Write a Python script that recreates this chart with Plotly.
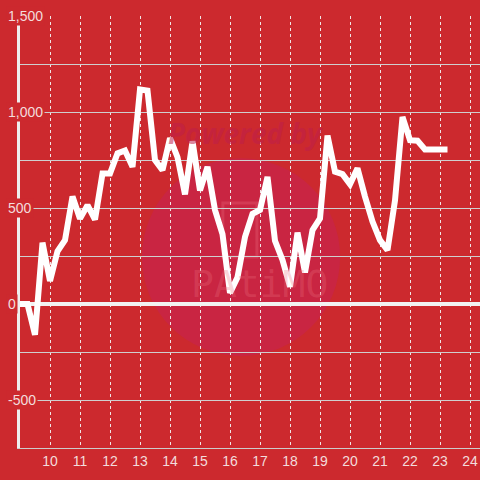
import plotly.graph_objects as go

# ---- data ----
x_start = 9.0
x_step = 0.25
values = [0, 0, -160, 320, 120, 275, 333, 560, 445, 515, 440, 680,
          680, 785, 800, 715, 1118, 1112, 750, 698, 865, 765, 572, 848,
          592, 715, 490, 365, 58, 140, 350, 470, 490, 663, 330, 230,
          90, 372, 165, 385, 446, 878, 690, 677, 625, 707, 560, 430,
          333, 281, 540, 975, 854, 851, 806, 806, 806, 806]
x_vals = [x_start + i * x_step for i in range(len(values))]

y_tick_vals = [1500, 1000, 500, 0, -500]
y_tick_text = ["1,500", "1,000", "500", "0", "-500"]
x_tick_vals = list(range(10, 25))

BG = "#cc292e"
TXT = "#f3dcdc"

fig = go.Figure()
fig.add_trace(go.Scatter(x=x_vals, y=values, mode="lines",
                         line=dict(color="#ffffff", width=6),
                         hoverinfo="skip", showlegend=False))

# watermark (decorative)
fig.add_shape(type="circle", xref="paper", yref="paper",
              x0=0.265, x1=0.696, y0=0.213, y1=0.671,
              fillcolor="rgba(200,36,75,0.7)", line=dict(width=0), layer="below")
fig.add_shape(type="rect", xref="paper", yref="paper",
              x0=0.441, x1=0.515, y0=0.442, y1=0.567,
              fillcolor="rgba(0,0,0,0)", line=dict(color="rgba(235,110,125,0.3)", width=3),
              layer="below")
fig.add_annotation(text="Powered by", xref="paper", yref="paper",
                   x=0.49, y=0.73, yanchor="middle", showarrow=False,
                   font=dict(family="Open Sans", size=28, color="rgba(190,30,75,0.55)",
                             weight="bold", style="italic"))
fig.add_annotation(text="PAtiMO", xref="paper", yref="paper",
                   x=0.52, y=0.38, showarrow=False,
                   font=dict(family="DejaVu Sans Mono", size=38,
                             color="rgba(235,110,125,0.3)"))

# y labels with background boxes
for v, t in zip(y_tick_vals, y_tick_text):
    fig.add_annotation(text=t, xref="paper", yref="y", x=-0.0304, y=v,
                       xanchor="left", yanchor="middle", showarrow=False,
                       bgcolor=BG, borderpad=1,
                       font=dict(family="Liberation Sans", size=14, color=TXT))

fig.update_layout(
    width=480, height=480,
    margin=dict(l=20, r=0, t=16, b=32, autoexpand=False),
    paper_bgcolor=BG, plot_bgcolor="rgba(0,0,0,0)",
    showlegend=False,
    xaxis=dict(range=[9.0, 9.0 + 460 / 30], tickvals=x_tick_vals,
               showgrid=True, gridcolor="#f0e6e6", griddash="dot", gridwidth=1,
               zeroline=False, showline=True, linecolor="#cccccc", linewidth=1,
               ticks="", automargin=False,
               tickfont=dict(family="Liberation Sans", size=14, color=TXT)),
    yaxis=dict(range=[-750, 1501], dtick=250, tick0=0,
               showgrid=True, gridcolor="#cfcfcf", gridwidth=1,
               zeroline=True, zerolinecolor="#f2f2f2", zerolinewidth=4,
               showline=True, linecolor="#eeeeee", linewidth=3,
               showticklabels=False, ticks="", automargin=False),
)

fig.write_html("out.html", config={"displayModeBar": False},
               post_script="document.body.style.margin='0';document.body.style.padding='0';")
